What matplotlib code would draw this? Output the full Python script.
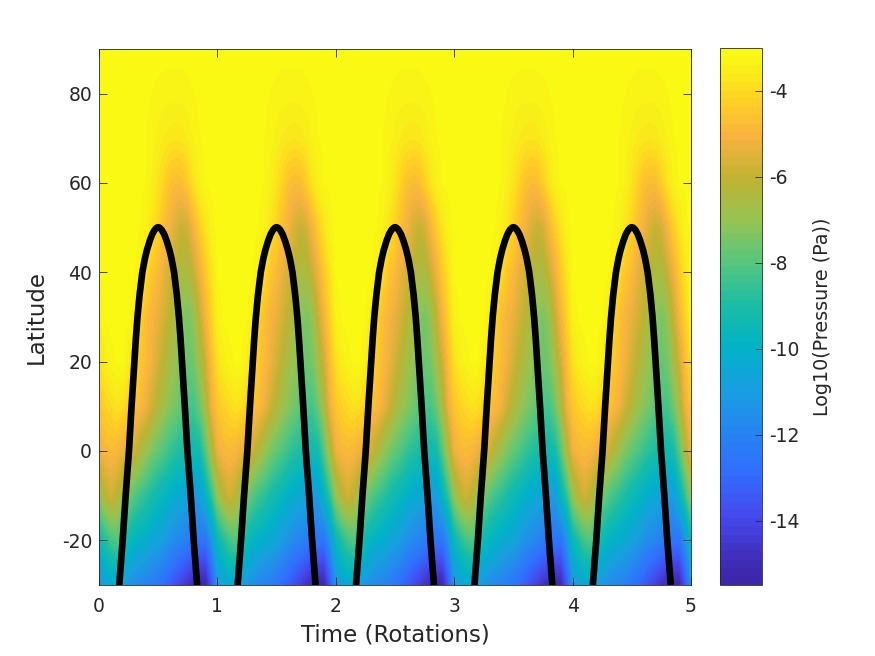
import numpy as np
import matplotlib
matplotlib.use('Agg')
import matplotlib.pyplot as plt
from matplotlib.colors import LinearSegmentedColormap

# values for one rotation (phase step 0.05), repeats 5 times
latitudes = [90, 80, 70, 60, 50, 40, 30, 20, 10, 0, -10, -20, -30]
log_pressure = [
    [-3.1, -3.1, -3.1, -3.1, -3.1, -3.1, -3.1, -3.1, -3.1, -3.1, -3.1, -3.1, -3.1, -3.1, -3.1, -3.1, -3.1, -3.1, -3.1, -3.1],
    [-3.15, -3.15, -3.15, -3.15, -3.1, -3.1, -3.1, -3.15, -3.15, -3.2, -3.25, -3.3, -3.3, -3.3, -3.3, -3.25, -3.2, -3.15, -3.15, -3.15],
    [-3.15, -3.15, -3.15, -3.1, -3.1, -3.1, -3.1, -3.15, -3.2, -3.3, -3.45, -3.6, -3.7, -3.75, -3.7, -3.55, -3.35, -3.2, -3.15, -3.15],
    [-3.1, -3.1, -3.05, -3.05, -3.05, -3.05, -3.1, -3.15, -3.2, -3.45, -3.8, -4.2, -4.6, -4.75, -4.7, -4.3, -3.8, -3.4, -3.15, -3.15],
    [-3.1, -3.05, -3.05, -3.05, -3.05, -3.05, -3.1, -3.2, -3.4, -3.8, -4.2, -4.7, -5.1, -5.6, -5.9, -5.7, -5.0, -4.3, -3.8, -3.3],
    [-3.15, -3.1, -3.05, -3.05, -3.05, -3.1, -3.15, -3.5, -4.0, -4.5, -4.8, -5.3, -5.7, -6.1, -6.5, -6.5, -5.9, -5.2, -4.4, -3.8],
    [-3.4, -3.15, -3.1, -3.1, -3.1, -3.15, -3.6, -4.2, -4.7, -5.0, -5.3, -5.7, -6.1, -6.6, -7.1, -7.5, -7.0, -6.0, -5.0, -4.2],
    [-3.9, -3.5, -3.3, -3.15, -3.15, -3.5, -4.0, -4.5, -4.8, -5.2, -5.7, -6.2, -6.6, -7.0, -7.4, -7.7, -7.5, -6.7, -5.8, -4.7],
    [-4.5, -4.2, -4.0, -3.8, -3.9, -4.3, -4.6, -4.8, -5.2, -5.8, -6.3, -6.8, -7.2, -7.5, -7.9, -8.2, -8.3, -7.6, -6.6, -5.2],
    [-5.2, -4.9, -4.8, -4.9, -5.2, -5.5, -5.8, -6.4, -6.9, -7.4, -7.8, -8.1, -8.5, -8.8, -9.0, -9.2, -9.3, -9.2, -8.0, -6.5],
    [-7.0, -6.2, -5.7, -6.1, -6.8, -7.5, -8.0, -8.4, -8.7, -9.1, -9.4, -9.7, -10.0, -10.3, -10.5, -10.7, -10.9, -11.0, -9.8, -8.6],
    [-9.6, -8.9, -8.3, -8.0, -8.7, -9.4, -9.8, -10.0, -10.2, -10.5, -10.7, -11.0, -11.4, -11.7, -11.9, -12.2, -12.4, -12.5, -12.6, -11.3],
    [-11.3, -10.8, -10.4, -10.6, -11.0, -11.3, -11.5, -11.8, -12.0, -12.2, -12.5, -12.9, -13.3, -13.8, -14.2, -14.7, -15.1, -15.3, -15.2, -13.5],
]

# black line, one arch (rising side, the falling side mirrors it around phase 0.5)
rise_phase = [0.171, 0.2, 0.225, 0.253, 0.264, 0.275, 0.287, 0.299, 0.311, 0.325, 0.343, 0.366, 0.387, 0.405, 0.428, 0.449, 0.47, 0.488, 0.5]
rise_lat = [-30, -20, -10, 0, 5, 10, 15, 20, 25, 30, 35, 40, 43, 45, 47, 48.5, 49.5, 50.0, 50.1]
arch_phase = rise_phase + [1 - p for p in rise_phase[-2::-1]]
arch_lat = rise_lat + rise_lat[-2::-1]

cbar_ticks = [-4, -6, -8, -10, -12, -14]
cbar_labels = ['-4', '-6', '-8', '-10', '-12', '-14']

# colours, position runs 0..1 over -15.5..-3
cmap_stops = [(0.0, (0.24, 0.15, 0.66)), (0.04, (0.25, 0.18, 0.72)), (0.12, (0.27, 0.28, 0.93)),
              (0.20, (0.20, 0.42, 1.00)), (0.28, (0.15, 0.52, 0.95)), (0.36, (0.10, 0.62, 0.88)),
              (0.44, (0.00, 0.70, 0.78)), (0.52, (0.10, 0.74, 0.65)), (0.60, (0.33, 0.78, 0.50)),
              (0.68, (0.58, 0.77, 0.33)), (0.76, (0.75, 0.70, 0.20)), (0.84, (0.97, 0.70, 0.25)),
              (0.90, (1.00, 0.80, 0.15)), (0.96, (0.98, 0.93, 0.10)), (1.0, (0.98, 0.98, 0.08))]
cmap = LinearSegmentedColormap.from_list('parula', cmap_stops, N=64)

ink = '#262626'
plt.rcParams['font.family'] = 'DejaVu Sans'
plt.rcParams['axes.unicode_minus'] = False

W, H = 875, 656
fig = plt.figure(figsize=(W / 100, H / 100), dpi=100)
ax = fig.add_axes([99 / W, (H - 585) / H, 592 / W, 536 / H])
cax = fig.add_axes([720 / W, (H - 585) / H, 42 / W, 537 / H])

rows = np.array(log_pressure)
field = np.hstack([rows] * 5 + [rows[:, :1]])
im = ax.imshow(field, extent=[-0.025, 5.025, -35, 95], aspect='auto', origin='upper',
               cmap=cmap, vmin=-15.5, vmax=-3, interpolation='bilinear',
               interpolation_stage='data')

for k in range(5):
    ax.plot(np.array(arch_phase) + k, arch_lat, color='k', lw=4.8, solid_capstyle='butt')

ax.set_xlim(0, 5)
ax.set_ylim(-30, 90)
ax.set_xticks(range(6))
ax.set_yticks(range(-20, 81, 20))
ax.tick_params(direction='in', top=True, right=True, length=6, width=0.6, color=ink,
               labelcolor=ink, labelsize=13.5, pad=5)
ax.tick_params(axis='x', pad=9)
ax.set_xlabel('Time (Rotations)', fontsize=16.5, color=ink, labelpad=5)
ax.set_ylabel('Latitude', fontsize=16.5, color=ink, labelpad=10)
for s in ax.spines.values():
    s.set_linewidth(0.6)
    s.set_color(ink)

cb = fig.colorbar(im, cax=cax, ticks=cbar_ticks)
cb.ax.tick_params(direction='in', length=5, width=0.6, color=ink, labelcolor=ink,
                  labelsize=13.5, pad=5)
cb.ax.set_yticklabels(cbar_labels)
cb.set_label('Log10(Pressure (Pa))', fontsize=13.8, color=ink, labelpad=10)
cb.outline.set_linewidth(0.6)
cb.outline.set_edgecolor(ink)

fig.savefig('out.png', dpi=100)
